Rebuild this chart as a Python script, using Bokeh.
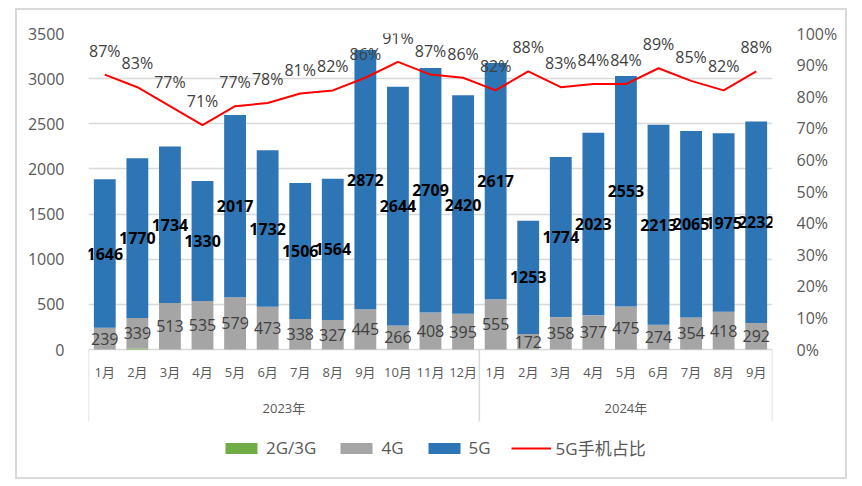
import math
from bokeh.plotting import figure
from bokeh.models import (ColumnDataSource, Range1d, LinearAxis, FixedTicker,
                          NumeralTickFormatter, Legend, LegendItem)
from bokeh.core.properties import value
from bokeh.embed import file_html
from bokeh.resources import INLINE

months = ["1月", "2月", "3月", "4月", "5月", "6月", "7月", "8月", "9月", "10月", "11月", "12月",
          "1月", "2月", "3月", "4月", "5月", "6月", "7月", "8月", "9月"]
years = ["2023年", "2024年"]
year_counts = [12, 9]
g23 = [1, 10, 1, 1, 1, 1, 1, 1, 1, 1, 1, 1, 1, 1, 1, 1, 1, 1, 1, 1, 1]
g4 = [239, 339, 513, 535, 579, 473, 338, 327, 445, 266, 408, 395,
      555, 172, 358, 377, 475, 274, 354, 418, 292]
g5 = [1646, 1770, 1734, 1330, 2017, 1732, 1506, 1564, 2872, 2644, 2709, 2420,
      2617, 1253, 1774, 2023, 2553, 2213, 2065, 1975, 2232]
pct = [87, 83, 77, 71, 77, 78, 81, 82, 86, 91, 87, 86,
       82, 88, 83, 84, 84, 89, 85, 82, 88]
left_ticks = list(range(0, 3501, 500))
right_ticks = [i / 10 for i in range(11)]

FONT = "Open Sans, Noto Sans CJK SC"
AX = "#595959"
GRID = "#D9D9D9"

# frame: 684 x 444 px; value axis 0..3500 occupies the top 316 px
FRAME_H = 444
PLOT_H = 316
ymax = 3500
ymin = -ymax * (FRAME_H - PLOT_H) / PLOT_H
pmin = -(FRAME_H - PLOT_H) / PLOT_H

n = len(months)
xs = list(range(n))
src = ColumnDataSource(dict(
    x=xs, g23=g23, g4=g4, g5=g5,
    y4=[a + b / 2 for a, b in zip(g23, g4)],
    y5=[a + b + c / 2 for a, b, c in zip(g23, g4, g5)],
    t4=[str(v) for v in g4], t5=[str(v) for v in g5],
    p=[v / 100 for v in pct], tp=[f"{v}%" for v in pct],
    m=months, zero=[0] * n,
))

bounds = [-0.5]
centers = []
for c in year_counts:
    centers.append(bounds[-1] + c / 2)
    bounds.append(bounds[-1] + c)
ysrc = ColumnDataSource(dict(x=centers, y=[0] * len(years), t=years))
bsrc = ColumnDataSource(dict(x=bounds, y=[0] * len(bounds)))

p = figure(frame_width=684, frame_height=FRAME_H, output_backend="svg", toolbar_location=None,
           x_range=Range1d(-0.5, n - 0.5), y_range=Range1d(ymin, ymax),
           x_axis_location=None, min_border_left=71, min_border_right=73,
           min_border_top=23, min_border_bottom=0,
           styles={"border": "2px solid #D9D9D9", "margin-left": "15px", "margin-top": "8px"})
p.extra_y_ranges = {"pct": Range1d(pmin, 1)}
p.outline_line_color = None
p.xgrid.visible = False
p.ygrid.ticker = FixedTicker(ticks=left_ticks)
p.ygrid.grid_line_color = GRID
p.ygrid.grid_line_width = 1.5

ya = p.yaxis[0]
ya.ticker = FixedTicker(ticks=left_ticks)
ya.axis_line_color = None
ya.major_tick_line_color = None
ya.minor_tick_line_color = None
ya.major_label_text_font = FONT
ya.major_label_text_font_size = "16px"
ya.major_label_text_color = AX
ya.major_label_standoff = 18

ra = LinearAxis(y_range_name="pct", ticker=FixedTicker(ticks=right_ticks),
                formatter=NumeralTickFormatter(format="0%"))
ra.axis_line_color = None
ra.major_tick_line_color = None
ra.minor_tick_line_color = None
ra.major_label_text_font = FONT
ra.major_label_text_font_size = "16px"
ra.major_label_text_color = AX
ra.major_label_standoff = 18
p.add_layout(ra, "right")

bars = p.vbar_stack(["g23", "g4", "g5"], x="x", width=0.67, source=src,
                    color=["#70AD47", "#A5A5A5", "#2E75B6"], line_color=None)
line = p.line("x", "p", source=src, y_range_name="pct", color="#FF0000", line_width=2)

p.text("x", "y4", text="t4", source=src, text_align="center", text_baseline="middle",
       text_font=value(FONT), text_font_size="16px", text_color="#404040")
p.text("x", "y5", text="t5", source=src, text_align="center", text_baseline="middle",
       text_font=value(FONT), text_font_size="16px", text_font_style="bold",
       text_color="#000000")
p.text("x", "p", text="tp", source=src, y_range_name="pct", y_offset=-24,
       text_align="center", text_baseline="middle", text_font=value(FONT),
       text_font_size="16px", text_color="#404040")

# category axis: month labels, year labels and group separators under the baseline
p.text("x", "zero", text="m", source=src, y_offset=22, text_align="center",
       text_baseline="middle", text_font=value(FONT), text_font_size="13px", text_color=AX)
p.text("x", "y", text="t", source=ysrc, y_offset=58, text_align="center",
       text_baseline="middle", text_font=value(FONT), text_font_size="13px", text_color=AX)
p.ray("x", "y", source=bsrc, length=72, length_units="screen", angle=-math.pi / 2,
      line_color=GRID, line_width=1.5)

legend = Legend(items=[LegendItem(label="2G/3G", renderers=[bars[0]]),
                       LegendItem(label="4G", renderers=[bars[1]]),
                       LegendItem(label="5G", renderers=[bars[2]]),
                       LegendItem(label="5G手机占比", renderers=[line])],
                orientation="horizontal", location=(133, 17),
                label_text_font=FONT, label_text_font_size="17px", label_text_color=AX,
                glyph_width=40, glyph_height=14, label_standoff=5, spacing=20,
                margin=0, padding=0, border_line_color=None, background_fill_alpha=0)
p.add_layout(legend, "center")

open("out.html", "w").write(file_html(p, INLINE))
